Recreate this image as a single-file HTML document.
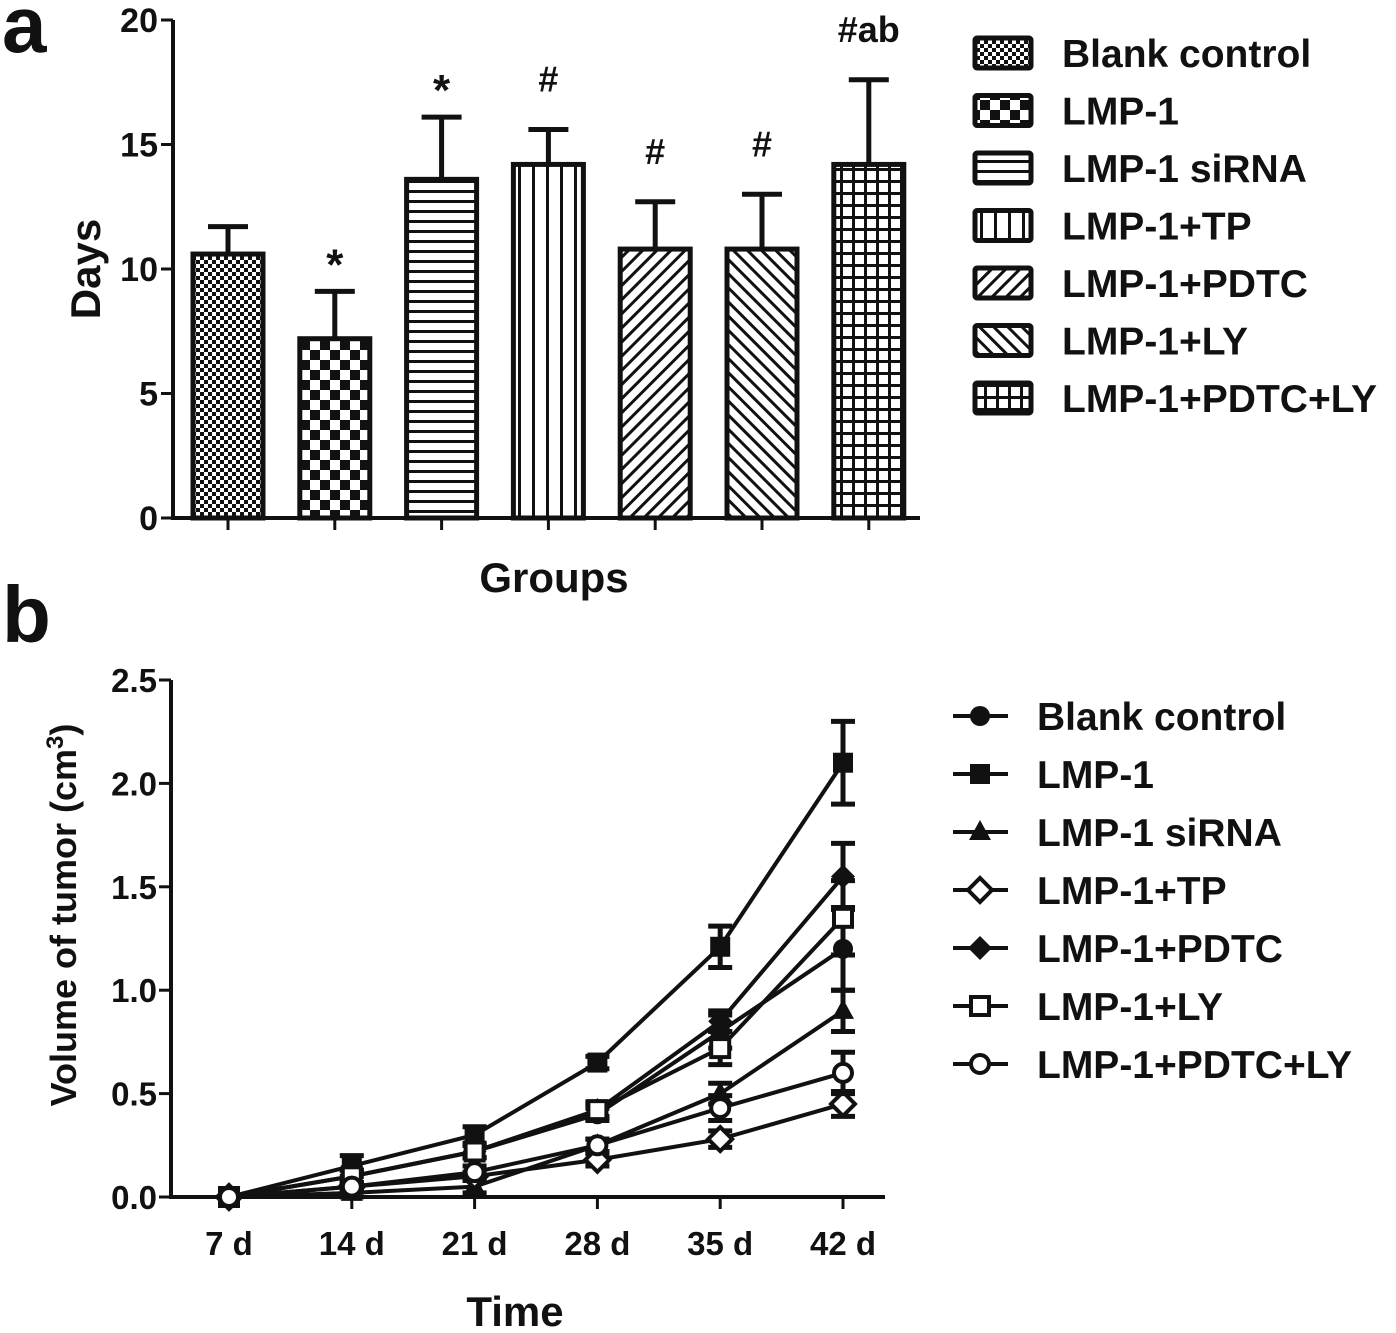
<!DOCTYPE html>
<html><head><meta charset="utf-8"><style>
body{margin:0;background:#fff}
svg{display:block}
text{font-family:"Liberation Sans",Arial,sans-serif;font-weight:bold;fill:#111}
</style></head><body>
<svg id="fig" width="1396" height="1333" viewBox="0 0 1396 1333">
<defs>
<pattern id="p0" width="8" height="8" patternUnits="userSpaceOnUse"><rect width="8" height="8" fill="#fff"/><rect width="4" height="4" fill="#111"/><rect x="4" y="4" width="4" height="4" fill="#111"/></pattern>
<pattern id="p1" width="20" height="20" patternUnits="userSpaceOnUse"><rect width="20" height="20" fill="#fff"/><rect width="10" height="10" fill="#111"/><rect x="10" y="10" width="10" height="10" fill="#111"/></pattern>
<pattern id="p2" width="10" height="10" patternUnits="userSpaceOnUse"><rect width="10" height="10" fill="#fff"/><rect y="0" width="10" height="3" fill="#111"/></pattern>
<pattern id="p3" width="14" height="10" patternUnits="userSpaceOnUse"><rect width="14" height="10" fill="#fff"/><rect width="3" height="10" fill="#111"/></pattern>
<pattern id="p4" width="10" height="10" patternUnits="userSpaceOnUse" patternTransform="rotate(45)"><rect width="10" height="10" fill="#fff"/><rect width="3" height="10" fill="#111"/></pattern>
<pattern id="p5" width="10" height="10" patternUnits="userSpaceOnUse" patternTransform="rotate(-45)"><rect width="10" height="10" fill="#fff"/><rect width="3" height="10" fill="#111"/></pattern>
<pattern id="p6" width="12" height="12" patternUnits="userSpaceOnUse"><rect width="12" height="12" fill="#fff"/><rect width="12" height="3" fill="#111"/><rect width="3" height="12" fill="#111"/></pattern>
</defs>
<g id="a"></g><g id="b"></g>
</svg>
<script>
// Chart a data
const groupsA = ["Blank control","LMP-1","LMP-1 siRNA","LMP-1+TP","LMP-1+PDTC","LMP-1+LY","LMP-1+PDTC+LY"];
const meansA = [10.6, 7.2, 13.6, 14.2, 10.8, 10.8, 14.2];
const errA = [1.1, 1.9, 2.5, 1.4, 1.9, 2.2, 3.4];
const marksA = ["", "*", "*", "#", "#", "#", "#ab"];
const ticksA = [0, 5, 10, 15, 20];
// Chart b data
const timesB = ["7 d","14 d","21 d","28 d","35 d","42 d"];
const seriesNames = ["Blank control","LMP-1","LMP-1 siRNA","LMP-1+TP","LMP-1+PDTC","LMP-1+LY","LMP-1+PDTC+LY"];
const sBlank = [0, 0.10, 0.22, 0.40, 0.80, 1.20];
const sLMP = [0, 0.15, 0.30, 0.65, 1.21, 2.10];
const sSi = [0, 0.02, 0.05, 0.25, 0.50, 0.90];
const sTP = [0, 0.05, 0.10, 0.18, 0.28, 0.45];
const sPDTC = [0, 0.10, 0.22, 0.42, 0.85, 1.55];
const sLY = [0, 0.10, 0.22, 0.42, 0.72, 1.35];
const sPL = [0, 0.05, 0.12, 0.25, 0.43, 0.60];
const eLMP = [0, 0.05, 0.04, 0.03, 0.10, 0.20];
const eBlank = [0, 0.03, 0.03, 0.03, 0.08, 0.20];
const eSi = [0, 0.02, 0.03, 0.03, 0.05, 0.10];
const eTP = [0, 0.02, 0.02, 0.03, 0.04, 0.06];
const ePDTC = [0, 0.03, 0.03, 0.03, 0.05, 0.16];
const eLY = [0, 0.03, 0.03, 0.04, 0.08, 0.18];
const ePL = [0, 0.02, 0.03, 0.03, 0.06, 0.10];
const ticksB = [0, 0.5, 1.0, 1.5, 2.0, 2.5];

const NS="http://www.w3.org/2000/svg";
function mk(parent,tag,attrs,txt){const e=document.createElementNS(NS,tag);for(const k in attrs)e.setAttribute(k,attrs[k]);if(txt!==undefined)e.textContent=txt;parent.appendChild(e);return e;}

// ---- Chart a ----
const ga=document.getElementById('a');
const yA=v=>518-v*24.9;
const xA=i=>228+i*106.8;
let t=mk(ga,'text',{x:2,y:52,'font-size':80});t.textContent='a';


let ax=mk(ga,'path',{d:`M173 20 V518 H920`,stroke:'#111','stroke-width':4,fill:'none'});


ticksA.forEach(v=>{
 mk(ga,'line',{x1:161,x2:173,y1:yA(v),y2:yA(v),stroke:'#111','stroke-width':3});
 const tl=mk(ga,'text',{x:158,y:yA(v)+12,'font-size':34,'text-anchor':'end'},v);
 
 
});
const yt=mk(ga,'text',{transform:'translate(100,269) rotate(-90)','font-size':42,'text-anchor':'middle'},'Days');


const xt=mk(ga,'text',{x:554,y:592,'font-size':42,'text-anchor':'middle'},'Groups');


meansA.forEach((m,i)=>{
 const cx=xA(i);
 mk(ga,'line',{x1:cx,x2:cx,y1:518,y2:530,stroke:'#111','stroke-width':3});
 const top=yA(m+errA[i]);
 const eb=mk(ga,'path',{d:`M${cx} ${yA(m)} V${top} M${cx-20} ${top} H${cx+20}`,stroke:'#111','stroke-width':5,fill:'none'});
 
 
 const r=mk(ga,'rect',{x:cx-35,y:yA(m),width:70,height:518-yA(m),fill:`url(#p${i})`,stroke:'#111','stroke-width':5});
 
 
 if(marksA[i]){const s=mk(ga,'text',{x:cx,y:top-(marksA[i]==='*'?30:38),'font-size':(marksA[i]==='*'?44:36),'text-anchor':'middle'},marksA[i]);
  if(marksA[i]==='*')s.setAttribute('dy','18');
  
  }
});
groupsA.forEach((g,i)=>{
 const y=53+i*57.5;
 const b=mk(ga,'rect',{x:975,y:y-15,width:56,height:30,fill:`url(#p${i})`,stroke:'#111','stroke-width':5,rx:2});
 
 
 const l=mk(ga,'text',{x:1062,y:y+14,'font-size':39},g);
 
 
});

// ---- Chart b ----
const gb=document.getElementById('b');
const yB=v=>1197-v*206.8;
const xB=i=>229+i*122.8;
t=mk(gb,'text',{x:2,y:642,'font-size':80},'b');


ax=mk(gb,'path',{d:`M171 680 V1197 H885`,stroke:'#111','stroke-width':4,fill:'none'});


ticksB.forEach(v=>{
 mk(gb,'line',{x1:159,x2:171,y1:yB(v),y2:yB(v),stroke:'#111','stroke-width':3});
 const tl=mk(gb,'text',{x:157,y:yB(v)+12,'font-size':33,'text-anchor':'end'},v.toFixed(1));
 
 
});
timesB.forEach((s,i)=>{
 mk(gb,'line',{x1:xB(i),x2:xB(i),y1:1197,y2:1209,stroke:'#111','stroke-width':3});
 const tl=mk(gb,'text',{x:xB(i),y:1255,'font-size':33,'text-anchor':'middle'},s);
 
 
});
const ybt=mk(gb,'text',{transform:'translate(76,915) rotate(-90)','font-size':36,'text-anchor':'middle'});
ybt.innerHTML='Volume of tumor (cm<tspan dy="-13" font-size="24">3</tspan><tspan dy="13">)</tspan>';


const xbt=mk(gb,'text',{x:515,y:1326,'font-size':42,'text-anchor':'middle'},'Time');



const series=[sBlank,sLMP,sSi,sTP,sPDTC,sLY,sPL];
const errs=[eBlank,eLMP,eSi,eTP,ePDTC,eLY,ePL];
const shapes=['circle','square','triangle','odiamond','diamond','osquare','ocircle'];
function marker(g,shape,x,y){
 const st={stroke:'#111','stroke-width':4};
 if(shape==='circle')return mk(g,'circle',{cx:x,cy:y,r:10,fill:'#111'});
 if(shape==='ocircle')return mk(g,'circle',Object.assign({cx:x,cy:y,r:9,fill:'#fff'},st));
 if(shape==='square')return mk(g,'rect',{x:x-10,y:y-10,width:20,height:20,fill:'#111'});
 if(shape==='osquare')return mk(g,'rect',Object.assign({x:x-9,y:y-9,width:18,height:18,fill:'#fff'},st));
 if(shape==='triangle')return mk(g,'path',{d:`M${x} ${y-12} L${x+11} ${y+8} L${x-11} ${y+8}Z`,fill:'#111'});
 if(shape==='diamond')return mk(g,'path',{d:`M${x} ${y-12} L${x+12} ${y} L${x} ${y+12} L${x-12} ${y}Z`,fill:'#111'});
 return mk(g,'path',Object.assign({d:`M${x} ${y-12} L${x+12} ${y} L${x} ${y+12} L${x-12} ${y}Z`,fill:'#fff'},st));
}
series.forEach((s,k)=>{
 const g=mk(gb,'g',{});
 
 
 const d=s.map((v,i)=>(i?'L':'M')+xB(i)+' '+yB(v)).join(' ');
 const ln=mk(g,'path',{d,stroke:'#111','stroke-width':4,fill:'none'});
 
 
 s.forEach((v,i)=>{
  const e=errs[k][i];
  if(e>0){const x=xB(i),t1=yB(v+e),b1=yB(v-e);
   const eb=mk(g,'path',{d:`M${x} ${t1} V${b1} M${x-12} ${t1} H${x+12} M${x-12} ${b1} H${x+12}`,stroke:'#111','stroke-width':5,fill:'none'});
   
   }
  const m=marker(g,shapes[k],xB(i),yB(v));
  
  
 });
});
seriesNames.forEach((n,k)=>{
 const y=716+k*58;
 mk(gb,'line',{x1:953,x2:1008,y1:y,y2:y,stroke:'#111','stroke-width':4});
 const m=marker(gb,shapes[k],980,y);
 
 
 const l=mk(gb,'text',{x:1037,y:y+14,'font-size':39},n);
 
 
});
</script>
</body></html>
